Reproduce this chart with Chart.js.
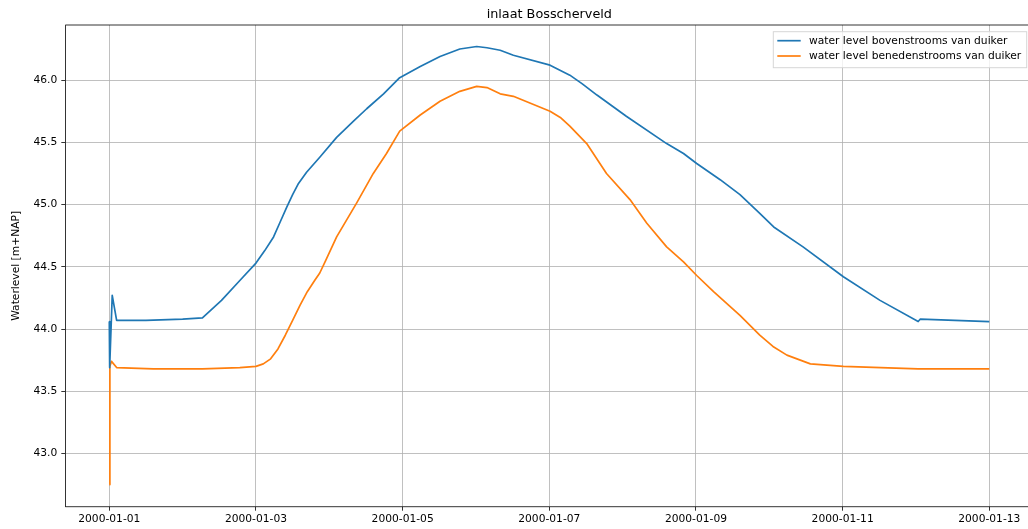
<!DOCTYPE html>
<html>
<head>
<meta charset="utf-8">
<script src="https://cdn.jsdelivr.net/npm/chart.js@4/dist/chart.umd.min.js"></script>
<style>
  html, body { margin: 0; padding: 0; overflow: hidden; background: #fff; }
  #wrap { width: 1028px; height: 529px; overflow: hidden; }
  canvas { display: block; }
</style>
</head>
<body>
<div id="wrap"><canvas id="c" width="1040" height="529"></canvas></div>
<script>
// ---- data (time in days since 2000-01-01 00:00) ----
const chartTitle = 'inlaat Bosscherveld';
const yAxisTitle = 'Waterlevel [m+NAP]';
const labelUp = 'water level bovenstrooms van duiker';
const labelDown = 'water level benedenstrooms van duiker';

const timeUp = [0, 0.005, 0.04, 0.1, 0.5, 1.0, 1.27, 1.53, 1.78, 2.0, 2.12, 2.24, 2.33, 2.42, 2.50, 2.58, 2.69, 2.87, 3.10, 3.33, 3.51, 3.74, 3.96, 4.24, 4.51, 4.78, 5.01, 5.15, 5.33, 5.51, 6.01, 6.28, 6.45, 6.65, 7.05, 7.60, 7.83, 8.01, 8.33, 8.60, 8.87, 9.06, 9.46, 10.01, 10.51, 11.03, 11.06, 12.0];
const levelUp = [44.06, 43.69, 44.27, 44.07, 44.07, 44.08, 44.09, 44.23, 44.39, 44.53, 44.63, 44.74, 44.86, 44.98, 45.08, 45.17, 45.26, 45.38, 45.54, 45.67, 45.77, 45.89, 46.02, 46.11, 46.19, 46.25, 46.27, 46.26, 46.24, 46.20, 46.12, 46.04, 45.97, 45.88, 45.71, 45.49, 45.41, 45.33, 45.20, 45.08, 44.93, 44.82, 44.66, 44.42, 44.23, 44.06, 44.08, 44.06];

const timeDown = [0, 0.008, 0.03, 0.1, 0.6, 1.27, 1.78, 2.0, 2.10, 2.20, 2.30, 2.40, 2.50, 2.60, 2.70, 2.80, 2.87, 2.95, 3.10, 3.37, 3.60, 3.78, 3.96, 4.24, 4.51, 4.78, 5.01, 5.15, 5.33, 5.51, 6.01, 6.15, 6.28, 6.51, 6.78, 7.10, 7.33, 7.60, 7.83, 8.01, 8.24, 8.60, 8.87, 9.05, 9.24, 9.56, 10.01, 11.03, 12.0];
const levelDown = [42.75, 43.70, 43.74, 43.69, 43.68, 43.68, 43.69, 43.70, 43.72, 43.76, 43.84, 43.95, 44.07, 44.19, 44.30, 44.39, 44.45, 44.55, 44.74, 45.01, 45.25, 45.41, 45.59, 45.72, 45.83, 45.91, 45.95, 45.94, 45.89, 45.87, 45.75, 45.70, 45.63, 45.49, 45.25, 45.04, 44.85, 44.66, 44.54, 44.43, 44.30, 44.11, 43.95, 43.86, 43.79, 43.72, 43.70, 43.68, 43.68];

const xTickDays = [0, 2, 4, 6, 8, 10, 12];
const xTickLabels = ['2000-01-01', '2000-01-03', '2000-01-05', '2000-01-07', '2000-01-09', '2000-01-11', '2000-01-13'];
const yTickValues = [43.0, 43.5, 44.0, 44.5, 45.0, 45.5, 46.0];

const colorUp = '#1f77b4';
const colorDown = '#ff7f0e';
const FONT = 'DejaVu Sans';

const toPoints = (ts, vs) => ts.map((t, i) => ({ x: t, y: vs[i] }));

const decor = {
  id: 'decor',
  afterDraw(chart) {
    const ctx = chart.ctx;
    const a = chart.chartArea;
    ctx.save();
    // top and bottom spines
    ctx.strokeStyle = '#000';
    ctx.lineWidth = 0.8;
    ctx.beginPath();
    ctx.moveTo(a.left, a.top);
    ctx.lineTo(a.right, a.top);
    ctx.stroke();
    ctx.beginPath();
    ctx.moveTo(a.left, a.bottom);
    ctx.lineTo(a.right, a.bottom);
    ctx.stroke();
    // title
    ctx.fillStyle = '#000';
    ctx.font = '12.8px "' + FONT + '"';
    ctx.textAlign = 'center';
    ctx.textBaseline = 'alphabetic';
    ctx.fillText(chartTitle, (a.left + a.right) / 2, 18);
    // y axis title
    ctx.save();
    ctx.translate(16, (a.top + a.bottom) / 2);
    ctx.rotate(-Math.PI / 2);
    ctx.font = '10.7px "' + FONT + '"';
    ctx.textBaseline = 'middle';
    ctx.fillText(yAxisTitle, 0, 0);
    ctx.restore();
    // legend frame
    const bx = 773.3, by = 31.7, bw = 253.4, bh = 36;
    ctx.fillStyle = 'rgba(255,255,255,0.8)';
    ctx.fillRect(bx, by, bw, bh);
    ctx.strokeStyle = '#d6d6d6';
    ctx.lineWidth = 1;
    ctx.strokeRect(bx, by, bw, bh);
    // legend entries
    const items = chart.data.datasets;
    const rows = [40.7, 56];
    ctx.font = '10.7px "' + FONT + '"';
    ctx.textAlign = 'left';
    ctx.textBaseline = 'middle';
    items.forEach((ds, i) => {
      ctx.strokeStyle = ds.borderColor;
      ctx.lineWidth = 1.7;
      ctx.beginPath();
      ctx.moveTo(777.3, rows[i]);
      ctx.lineTo(800.7, rows[i]);
      ctx.stroke();
      ctx.fillStyle = '#000';
      ctx.fillText(ds.label, 809, rows[i] + 0.5);
    });
    ctx.restore();
  }
};

new Chart(document.getElementById('c'), {
  type: 'line',
  data: {
    datasets: [
      { label: labelUp, data: toPoints(timeUp, levelUp), borderColor: colorUp, borderWidth: 1.7, pointRadius: 0, tension: 0, borderJoinStyle: 'round' },
      { label: labelDown, data: toPoints(timeDown, levelDown), borderColor: colorDown, borderWidth: 1.7, pointRadius: 0, tension: 0, borderJoinStyle: 'round' }
    ]
  },
  options: {
    responsive: false,
    animation: false,
    devicePixelRatio: 1,
    layout: { padding: { top: 25, right: 6.7, left: 0, bottom: 0 } },
    plugins: { legend: { display: false }, title: { display: false }, tooltip: { enabled: false } },
    scales: {
      x: {
        type: 'linear',
        min: -0.6,
        max: 12.6,
        afterBuildTicks: (s) => { s.ticks = xTickDays.map(v => ({ value: v })); },
        afterFit: (s) => { s.height = 22.3; },
        ticks: {
          autoSkip: false, maxRotation: 0, minRotation: 0, padding: 2,
          color: '#000', font: { family: FONT, size: 10.7 },
          callback: (v) => { const i = xTickDays.indexOf(v); return i >= 0 ? xTickLabels[i] : ''; }
        },
        grid: { color: '#b0b0b0', lineWidth: 0.8, tickColor: '#000', tickLength: 4 },
        border: { display: false }
      },
      y: {
        type: 'linear',
        min: 42.572,
        max: 46.443,
        afterBuildTicks: (s) => { s.ticks = yTickValues.map(v => ({ value: v })); },
        afterFit: (s) => { s.width = 65.3; },
        ticks: {
          autoSkip: false, padding: 4,
          color: '#000', font: { family: FONT, size: 10.7 },
          callback: (v) => Number(v).toFixed(1)
        },
        grid: { color: '#b0b0b0', lineWidth: 0.8, tickColor: '#000', tickLength: 4 },
        border: { color: '#000', width: 0.8 }
      }
    }
  },
  plugins: [decor]
});
</script>
</body>
</html>
